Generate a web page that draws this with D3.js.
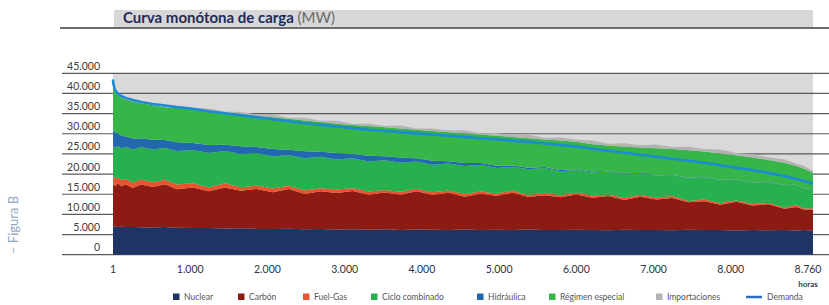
<!DOCTYPE html>
<html>
<head>
<meta charset="utf-8">
<title>Curva monótona de carga</title>
<script src="https://d3js.org/d3.v7.min.js"></script>
<style>
    body {
        margin: 0;
        background: #fff;
    }
    svg {
        display: block;
        font-family: Lato, "Open Sans", sans-serif;
    }
    .grid line {
        stroke: #5a5a5a;
        stroke-width: 1.2;
    }
    .y-label {
        font-size: 10.5px;
        fill: #3a3a3a;
        text-anchor: end;
    }
    .x-label {
        font-size: 10.5px;
        fill: #2e3346;
        text-anchor: middle;
    }
    .legend-label {
        font-size: 8.5px;
        fill: #555;
    }
</style>
</head>
<body>
<svg id="chart" width="829" height="305"></svg>
<script>
    // hours of the year (sorted by load), sampled
    const hours = [1, 5, 15, 30, 60, 100, 160, 250, 350, 500, 650, 800, 1000, 1200, 1400, 1600, 1800, 2000,
        2200, 2400, 2600, 2800, 3000, 3200, 3400, 3600, 3800, 4000, 4200, 4400, 4600, 4800, 5000, 5200,
        5400, 5600, 5800, 6000, 6200, 6400, 6600, 6800, 7000, 7200, 7400, 7600, 7800, 8000, 8200, 8400,
        8550, 8650, 8760];

    // MW per technology
    const nuclear = [7000, 7050, 6950, 7000, 6900, 6950, 6850, 6900, 6800, 6750, 6850, 6700, 6600, 6650, 6500,
        6550, 6400, 6350, 6450, 6300, 6350, 6250, 6300, 6200, 6300, 6150, 6250, 6200, 6100, 6250, 6150, 6200,
        6100, 6250, 6150, 6100, 6200, 6150, 6050, 6200, 6100, 6150, 6050, 6200, 6100, 6150, 6000, 6100, 6050,
        6150, 6000, 6100, 6000];
    const carbon = [10500, 9850, 10800, 9900, 10900, 10000, 10550, 9650, 10600, 10050, 10650, 9550, 10100, 9100,
        10200, 9300, 9900, 9150, 9850, 8750, 9400, 9050, 9500, 8650, 9100, 8700, 9500, 8600, 9250, 8150, 9000,
        8400, 9250, 8050, 8600, 8150, 8750, 8000, 8500, 7350, 8300, 7550, 8000, 6800, 7150, 6250, 7150, 6100,
        6450, 5250, 5850, 5050, 5200];
    const fuelGas = [2000, 1900, 1800, 1700, 1600, 1500, 1400, 1300, 1250, 1200, 1100, 1150, 1000, 950, 1050, 900,
        850, 950, 800, 900, 750, 850, 700, 800, 650, 750, 600, 700, 550, 650, 500, 600, 550, 450, 600, 500, 450,
        550, 400, 500, 450, 400, 500, 350, 450, 400, 300, 400, 350, 300, 400, 300, 300];
    const cicloCombinado = [7500, 7700, 7300, 7900, 7600, 7900, 8000, 8250, 8050, 8100, 7950, 8300, 8300, 8500,
        7950, 8250, 8100, 7950, 7600, 8000, 7800, 7450, 7400, 7450, 7350, 7200, 6750, 6800, 6700, 6950, 6650,
        6300, 5900, 6450, 6150, 5950, 5600, 5700, 5750, 5850, 5300, 5400, 5200, 5550, 5450, 5700, 5250, 5200,
        5150, 5500, 5050, 4950, 4700];
    const hidraulica = [4500, 4400, 3600, 3800, 3100, 3200, 2500, 2700, 2100, 2400, 1900, 2200, 1700, 2000, 1550,
        1900, 1450, 1800, 1350, 1700, 1250, 1600, 1100, 1450, 1000, 1300, 850, 1000, 600, 750, 450, 550, 300,
        400, 250, 300, 200, 250, 150, 200, 150, 150, 100, 150, 100, 100, 100, 100, 80, 100, 80, 80, 60];
    const regimenEspecial = [11000, 10900, 10550, 10000, 9600, 9450, 9200, 9200, 8800, 8600, 8150, 8500, 8400,
        8500, 8050, 8000, 7800, 7900, 7650, 7650, 7350, 7300, 7200, 7350, 7200, 7200, 7050, 7400, 7200, 7350,
        7050, 7450, 7100, 7300, 6850, 7300, 6800, 6750, 6250, 6700, 6300, 6750, 6350, 6850, 6350, 6500, 5850,
        6200, 5420, 5500, 4620, 4820, 4040];
    const importaciones = [300, 500, 200, 400, 250, 500, 300, 450, 300, 500, 250, 450, 300, 550, 250, 500, 300,
        600, 250, 650, 300, 700, 250, 650, 350, 750, 300, 600, 400, 800, 350, 700, 450, 850, 400, 750, 500, 900,
        450, 850, 550, 950, 500, 850, 600, 1000, 550, 900, 650, 850, 550, 700, 450];
    const demanda = [43500, 42500, 41600, 40800, 40000, 39400, 38900, 38400, 37900, 37400, 37000, 36600, 36200,
        35600, 35100, 34600, 34100, 33600, 33100, 32600, 32200, 31800, 31400, 31000, 30700, 30400, 30100, 29800,
        29500, 29200, 28900, 28600, 28300, 28000, 27600, 27200, 26800, 26300, 25800, 25300, 24800, 24300, 23800,
        23300, 22800, 22200, 21600, 21000, 20300, 19500, 18800, 18300, 17600];

    const seriesNames = ['Nuclear', 'Carbón', 'Fuel-Gas', 'Ciclo combinado', 'Hidráulica', 'Régimen especial', 'Importaciones'];
    const seriesValues = [nuclear, carbon, fuelGas, cicloCombinado, hidraulica, regimenEspecial, importaciones];
    const seriesColors = ['#1d3465', '#8c1b13', '#ea532d', '#27b04e', '#2268b0', '#36b649', '#b3b3b3'];
    const demandColor = '#1c8ad4';

    const yTicks = [0, 5000, 10000, 15000, 20000, 25000, 30000, 35000, 40000, 45000];
    const xTickLabels = [1, 1000, 2000, 3000, 4000, 5000, 6000, 7000, 8000, 8760];

    // legend layout (x of each marker)
    const legendX = [173, 238, 303, 371, 477, 549, 656, 746];

    const es = d3.formatLocale({ decimal: ',', thousands: '.', grouping: [3], currency: ['', ' €'] });
    const fmt = es.format(',d');

    const svg = d3.select('#chart');
    const plotLeft = 113, plotRight = 813, plotTop = 73.3, plotBottom = 254.7;

    const x = d3.scaleLinear().domain([1, 8760]).range([plotLeft, plotRight]);
    const y = d3.scaleLinear().domain([0, 45000]).range([plotBottom, plotTop]);
    const xTick = d3.scalePoint().domain(xTickLabels).range([113, 808]);

    // title bar
    svg.append('rect')
        .attr('x', 114).attr('y', 10)
        .attr('width', 699).attr('height', 17)
        .attr('fill', '#d7d7d7');
    svg.append('line')
        .attr('x1', 60).attr('x2', 829)
        .attr('y1', 28).attr('y2', 28)
        .attr('stroke', '#3a3a3a').attr('stroke-width', 1.5);
    const title = svg.append('text')
        .attr('x', 123).attr('y', 22.5)
        .attr('font-size', 15);
    title.append('tspan')
        .attr('font-weight', 'bold').attr('fill', '#1f2a5a')
        .text('Curva monótona de carga ');
    title.append('tspan')
        .attr('fill', '#6a6a6a')
        .text('(MW)');

    // side label
    svg.append('text')
        .attr('transform', 'translate(18,254) rotate(-90)')
        .attr('font-size', 13)
        .attr('fill', '#8fa6c0')
        .text('– Figura B');

    // plot background
    svg.append('rect')
        .attr('x', plotLeft).attr('y', plotTop)
        .attr('width', plotRight - plotLeft).attr('height', plotBottom - plotTop)
        .attr('fill', '#d9d9d9');

    // horizontal lines
    svg.append('g').attr('class', 'grid')
        .selectAll('line')
        .data(yTicks)
        .join('line')
        .attr('x1', 62).attr('x2', 829)
        .attr('y1', d => y(d)).attr('y2', d => y(d));

    svg.append('g')
        .selectAll('text')
        .data(yTicks)
        .join('text')
        .attr('class', 'y-label')
        .attr('x', 100)
        .attr('y', d => y(d) - 3.5)
        .text(d => fmt(d));

    // stacked areas
    const rows = hours.map((h, i) => {
        const r = { hour: h };
        seriesNames.forEach((name, k) => { r[name] = seriesValues[k][i]; });
        return r;
    });
    const stacked = d3.stack().keys(seriesNames)(rows);

    const area = d3.area()
        .x(d => x(d.data.hour))
        .y0(d => y(d[0]))
        .y1(d => y(d[1]));

    svg.append('g')
        .selectAll('path')
        .data(stacked)
        .join('path')
        .attr('fill', (d, i) => seriesColors[i])
        .attr('d', area);

    // demand line
    const line = d3.line()
        .x((d, i) => x(hours[i]))
        .y(d => y(d));
    svg.append('path')
        .datum(demanda)
        .attr('fill', 'none')
        .attr('stroke', demandColor)
        .attr('stroke-width', 2.6)
        .attr('d', line);

    // x labels
    svg.append('g')
        .selectAll('text')
        .data(xTickLabels)
        .join('text')
        .attr('class', 'x-label')
        .attr('x', d => xTick(d))
        .attr('y', 273)
        .text(d => fmt(d));
    svg.append('text')
        .attr('x', 808).attr('y', 287)
        .attr('text-anchor', 'middle')
        .attr('font-size', 8).attr('font-weight', 'bold')
        .attr('fill', '#3a3a4a')
        .text('horas');

    // legend
    const legendItems = seriesNames.concat(['Demanda']);
    const legend = svg.append('g')
        .selectAll('g')
        .data(legendItems)
        .join('g')
        .attr('transform', (d, i) => `translate(${legendX[i]},300)`);

    legend.filter(d => d !== 'Demanda')
        .append('rect')
        .attr('x', 0).attr('y', -6.5)
        .attr('width', 6.5).attr('height', 6.5)
        .attr('fill', (d, i) => seriesColors[i]);
    legend.filter(d => d === 'Demanda')
        .append('line')
        .attr('x1', 0).attr('x2', 16)
        .attr('y1', -3).attr('y2', -3)
        .attr('stroke', '#2a6cbf').attr('stroke-width', 2.5);
    legend.append('text')
        .attr('class', 'legend-label')
        .attr('x', d => d === 'Demanda' ? 21 : 11)
        .attr('y', 0)
        .text(d => d);
</script>
</body>
</html>
